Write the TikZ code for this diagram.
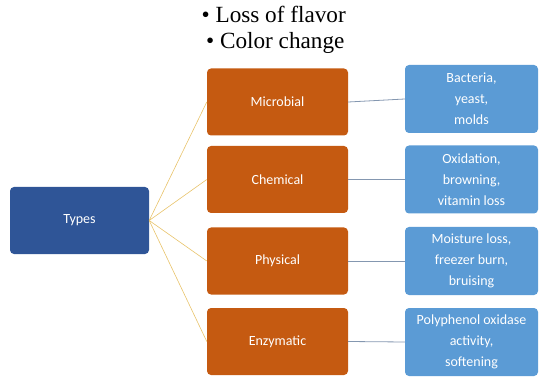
\documentclass[tikz,border=0pt]{standalone}
\usepackage{fontspec}
\setmainfont{Liberation Serif}
\newfontfamily\boxfont{Carlito}
\begin{document}
\begin{tikzpicture}[x=1pt,y=-1pt,
  base/.style={rounded corners=4pt, draw=none, text=white, font=\boxfont\fontsize{14}{21}\selectfont, align=center, inner sep=0pt},
  root/.style={base, fill=rootblue, minimum width=139pt, minimum height=67pt},
  cat/.style={base, fill=catorange, minimum width=141pt, minimum height=67pt},
  leaf/.style={base, fill=leafblue, minimum width=133pt, minimum height=68pt},
  titletext/.style={font=\fontsize{23.2}{26}\selectfont, inner sep=0pt, anchor=base},
  goldline/.style={draw=lineyellow, line width=0.6pt},
  grayline/.style={draw=linegray, line width=0.8pt}]
\definecolor{rootblue}{HTML}{2F5597}
\definecolor{catorange}{HTML}{C55A11}
\definecolor{leafblue}{HTML}{5B9BD5}
\definecolor{lineyellow}{HTML}{E8C36A}
\definecolor{linegray}{HTML}{8497B0}
\useasboundingbox (0,0) rectangle (540,379);
\node[titletext] (title1) at (273.7,22.7) {\textbullet\ Loss of flavor};
\node[titletext] (title2) at (275.3,49) {\textbullet\ Color change};
\node[root] (types) at (79.5,220.5) {Types};
\node[cat] (c1) at (277.5,102) {Microbial};
\node[cat] (c2) at (277.5,179.5) {Chemical};
\node[cat] (c3) at (277.5,261) {Physical};
\node[cat] (c4) at (277.5,341.5) {Enzymatic};
\node[leaf] (l1) at (471.5,99) {Bacteria,\\yeast,\\molds};
\node[leaf] (l2) at (471.5,179.5) {Oxidation,\\browning,\\vitamin loss};
\node[leaf] (l3) at (471.5,261) {Moisture loss,\\freezer burn,\\bruising};
\node[leaf] (l4) at (471.5,342) {Polyphenol oxidase\\activity,\\softening};
\foreach \i in {1,...,4} {
  \draw[goldline] (types.east) -- (c\i.west);
  \draw[grayline] (c\i.east) -- (l\i.west);
}
\end{tikzpicture}
\end{document}
